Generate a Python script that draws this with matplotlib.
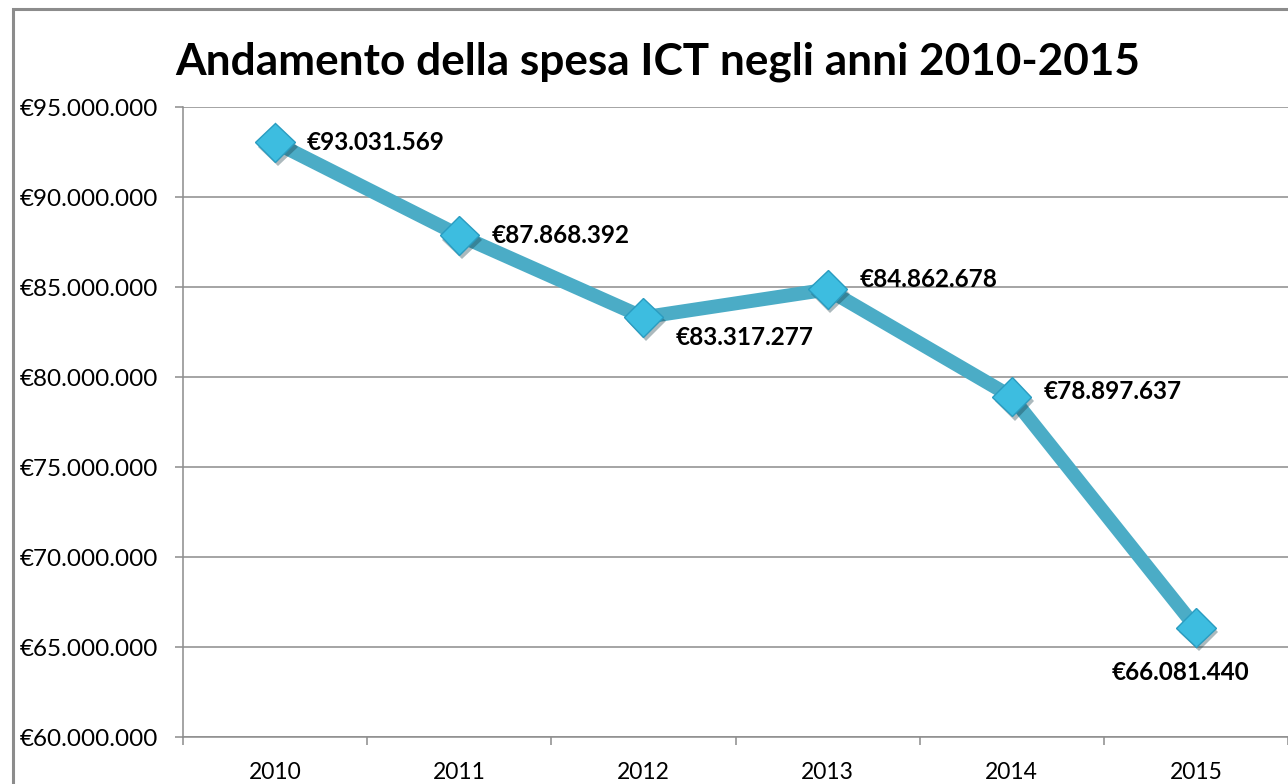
import matplotlib.pyplot as plt
import matplotlib.patheffects as pe
from matplotlib.patches import Rectangle
from matplotlib.ticker import FuncFormatter, FixedLocator

# Data
anni = ['2010', '2011', '2012', '2013', '2014', '2015']
spesa = [93031569, 87868392, 83317277, 84862678, 78897637, 66081440]
# label placement per point: (dx px, dy px, ha)
label_pos = [(32, 0, 'left'), (32, 0, 'left'), (32, -20, 'left'),
             (32, 10, 'left'), (32, 5, 'left'), (-15, -45, 'center')]

plt.rcParams['font.family'] = ['Lato', 'DejaVu Sans']

W, H = 1288, 784
fig = plt.figure(figsize=(W / 100, H / 100), dpi=100)
fig.patch.set_facecolor('white')

# chart border (cut at right/bottom as in reference)
fig.patches.append(Rectangle((13 / W, -0.1), 1.2, 1 - 9 / H + 0.1,
                             transform=fig.transFigure, fill=False,
                             edgecolor='#8c8c8c', linewidth=2.2))

ax = fig.add_axes([183 / W, 1 - 737 / H, 1 - 183 / W, (737 - 107) / H])

def fmt_euro(v):
    return '€' + f'{int(round(v)):,}'.replace(',', '.')

x = list(range(len(anni)))
ax.plot(x, spesa, color='#4BACC6', linewidth=10, solid_capstyle='butt',
        solid_joinstyle='round', zorder=3)
ax.plot(x, spesa, linestyle='none', marker='D', markersize=20,
        markerfacecolor='#3DBDE0', markeredgecolor='#2A9CC0', markeredgewidth=1,
        zorder=4,
        path_effects=[pe.SimplePatchShadow(offset=(2, -3), alpha=0.35), pe.Normal()])

for xi, v, (dx, dy, ha) in zip(x, spesa, label_pos):
    ax.annotate(fmt_euro(v), (xi, v), xytext=(dx * 0.72, dy * 0.72),
                textcoords='offset points', ha=ha, va='center',
                fontsize=17.5, fontweight='bold', color='black', zorder=5)

ax.set_xlim(-0.5, len(anni) - 0.5)
ax.set_ylim(60000000, 95000000)
ax.set_yticks(range(60000000, 95000001, 5000000))
ax.yaxis.set_major_formatter(FuncFormatter(lambda v, p: fmt_euro(v)))

ax.xaxis.set_major_locator(FixedLocator([i - 0.5 for i in range(len(anni) + 1)]))
ax.xaxis.set_major_formatter(FuncFormatter(lambda v, p: ''))
ax.xaxis.set_minor_locator(FixedLocator(x))
ax.set_xticklabels(anni, minor=True)

ax.grid(axis='y', color='#8c8c8c', linewidth=1.1)
ax.set_axisbelow(True)
for s in ['top', 'right']:
    ax.spines[s].set_visible(False)
for s in ['left', 'bottom']:
    ax.spines[s].set_color('#8c8c8c')
    ax.spines[s].set_linewidth(1.1)

ax.tick_params(axis='y', which='major', length=6, width=1.1, color='#8c8c8c',
               pad=12, labelsize=17.5)
ax.tick_params(axis='x', which='major', length=6, width=1.1, color='#8c8c8c')
ax.tick_params(axis='x', which='minor', length=0, pad=18, labelsize=16.5)

fig.text(175 / W, 1 - 62 / H, 'Andamento della spesa ICT negli anni 2010-2015',
         ha='left', va='center', fontsize=31.8, fontweight='bold')

fig.savefig('out.png', dpi=100)
